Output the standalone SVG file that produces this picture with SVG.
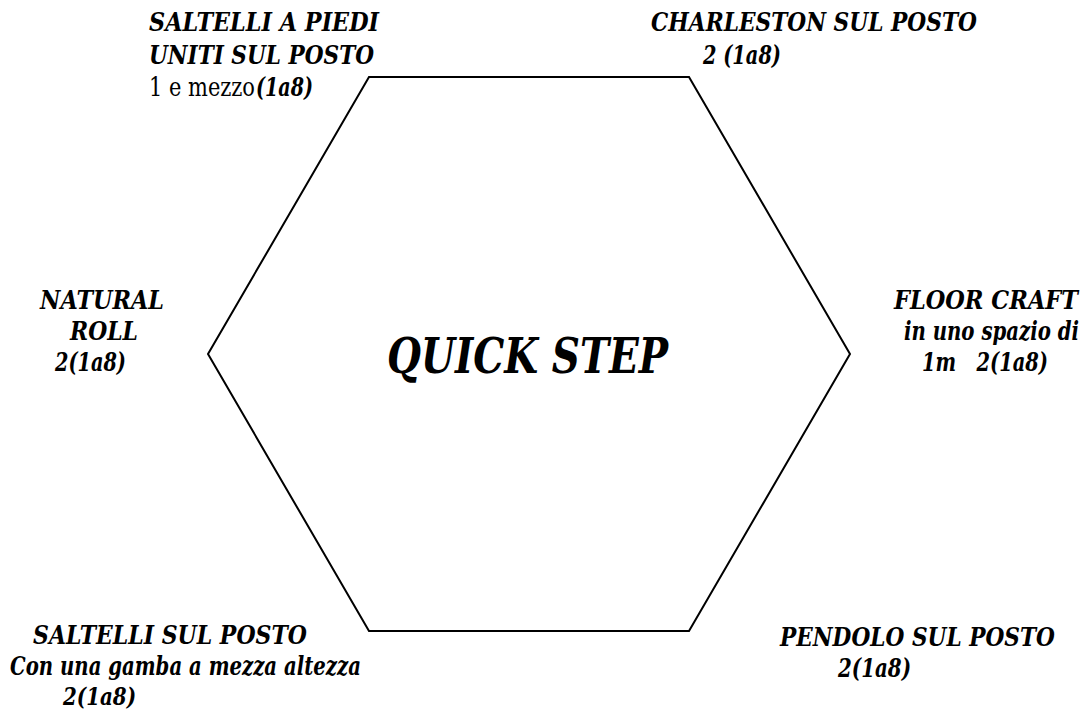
<svg xmlns="http://www.w3.org/2000/svg" width="1085" height="711" viewBox="0 0 1085 711">
<style>
.t{font-family:'DejaVu Serif','Liberation Serif','Times New Roman',serif;font-size:26.67px;font-weight:700;font-style:italic;fill:#000}
.r{font-weight:400;font-style:normal}
.big{font-size:48px}
.hex{fill:#fff;stroke:#000;stroke-width:2}
</style>
<rect width="1085" height="711" fill="#fff"/>
<g id="hexagon">
<polygon class="hex" points="369,77 689,77 850,354 689,631 369,631 208,354"/>
<text class="t big" transform="translate(387,373) scale(0.83,1)" textLength="338.6" lengthAdjust="spacingAndGlyphs">QUICK STEP</text>
</g>
<g id="connectors"></g>
<g id="saltelli-piedi-uniti">
<text class="t" transform="translate(149,31) scale(0.83,1)" textLength="277.1" lengthAdjust="spacingAndGlyphs">SALTELLI A PIEDI</text>
<text class="t" transform="translate(149,64) scale(0.83,1)" textLength="271.1" lengthAdjust="spacingAndGlyphs">UNITI SUL POSTO</text>
<text class="t r" transform="translate(149,96) scale(0.83,1)" textLength="127.7" lengthAdjust="spacingAndGlyphs">1 e mezzo</text>
<text class="t" transform="translate(256,96) scale(0.83,1)" textLength="68.7" lengthAdjust="spacingAndGlyphs">(1a8)</text>
</g>
<g id="charleston">
<text class="t" transform="translate(651,31) scale(0.83,1)" textLength="392.8" lengthAdjust="spacingAndGlyphs">CHARLESTON SUL POSTO</text>
<text class="t" transform="translate(703,64) scale(0.83,1)" textLength="94" lengthAdjust="spacingAndGlyphs">2 (1a8)</text>
</g>
<g id="natural-roll">
<text class="t" transform="translate(40,309) scale(0.83,1)" textLength="149.4" lengthAdjust="spacingAndGlyphs">NATURAL</text>
<text class="t" transform="translate(70,340) scale(0.83,1)" textLength="81.9" lengthAdjust="spacingAndGlyphs">ROLL</text>
<text class="t" transform="translate(55,371) scale(0.83,1)" textLength="85.5" lengthAdjust="spacingAndGlyphs">2(1a8)</text>
</g>
<g id="floor-craft">
<text class="t" transform="translate(894,309) scale(0.83,1)" textLength="221.7" lengthAdjust="spacingAndGlyphs">FLOOR CRAFT</text>
<text class="t" transform="translate(904,340) scale(0.76,1)" textLength="230.3" lengthAdjust="spacingAndGlyphs">in uno spazio di</text>
<text class="t" transform="translate(922,371) scale(0.83,1)" xml:space="preserve" textLength="151.8" lengthAdjust="spacingAndGlyphs">1m   2(1a8)</text>
</g>
<g id="saltelli-sul-posto">
<text class="t" transform="translate(33,643.5) scale(0.83,1)" textLength="330.1" lengthAdjust="spacingAndGlyphs">SALTELLI SUL POSTO</text>
<text class="t" transform="translate(10,675) scale(0.83,1)" textLength="422.9" lengthAdjust="spacingAndGlyphs">Con una gamba a mezza altezza</text>
<text class="t" transform="translate(63,705) scale(0.83,0.92)" textLength="88" lengthAdjust="spacingAndGlyphs">2(1a8)</text>
</g>
<g id="pendolo">
<text class="t" transform="translate(780,646) scale(0.83,1)" textLength="331.3" lengthAdjust="spacingAndGlyphs">PENDOLO SUL POSTO</text>
<text class="t" transform="translate(838,677) scale(0.83,1)" textLength="88" lengthAdjust="spacingAndGlyphs">2(1a8)</text>
</g>
</svg>
